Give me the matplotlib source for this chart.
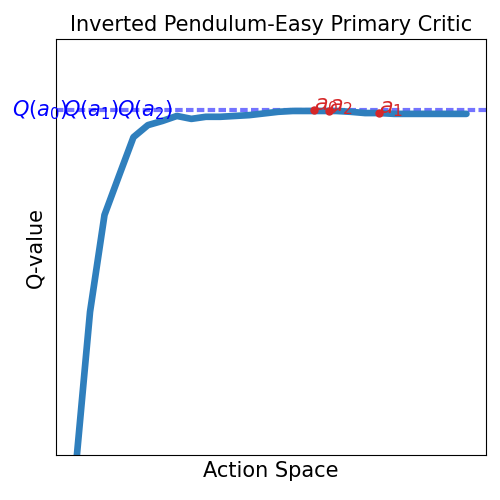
import numpy as np
import matplotlib.pyplot as plt
import matplotlib.transforms as mtransforms

# critic curve over the action space
actions = np.linspace(-1, 1, 28)
q_values = [-3.6, 34.4, 57.7, 67.1, 76.4, 79.3, 80.3, 81.5, 80.8, 81.3,
            81.3, 81.5, 81.7, 82.1, 82.5, 82.7, 82.7, 82.7, 82.7, 82.5,
            82.2, 82.2, 82.0, 82.0, 82.0, 82.0, 82.0, 82.0]

# sampled actions and their Q
sample_names = ['$a_0$', '$a_1$', '$a_2$']
sample_actions = [0.221, 0.554, 0.297]
sample_q = [82.9, 82.2, 82.7]
q_labels = ['$Q(a_0)$', '$Q(a_1)$', '$Q(a_2)$']
q_label_pos = [-0.102, 0.016, 0.142]
q_line = 82.9

fig = plt.figure(figsize=(5, 5), dpi=100)
ax = fig.add_axes([0.112, 0.09, 0.86, 0.832])

ax.plot(actions, q_values, color='#2f7fbd', linewidth=4.8, solid_capstyle='round', zorder=2)
ax.axhline(q_line, color='blue', alpha=0.55, linewidth=3, linestyle=(0, (1.8, 0.8)), zorder=1)

ax.scatter(sample_actions, sample_q, color='#d62728', s=25, zorder=3)
for name, a, q in zip(sample_names, sample_actions, sample_q):
    ax.text(a, q, name, color='#d62728', fontsize=16, zorder=4)

trans = mtransforms.blended_transform_factory(ax.transAxes, ax.transData)
for lab, xp in zip(q_labels, q_label_pos):
    ax.text(xp, q_line, lab, color='blue', fontsize=15, va='center',
            transform=trans, clip_on=False)

ax.set_xlim(-1.1, 1.1)
ax.set_ylim(0, 100)
ax.set_xticks([])
ax.set_yticks([])
ax.set_title('Inverted Pendulum-Easy Primary Critic', fontsize=15)
ax.set_xlabel('Action Space', fontsize=15)
ax.set_ylabel('Q-value', fontsize=15, labelpad=8)

fig.savefig('out.png')
